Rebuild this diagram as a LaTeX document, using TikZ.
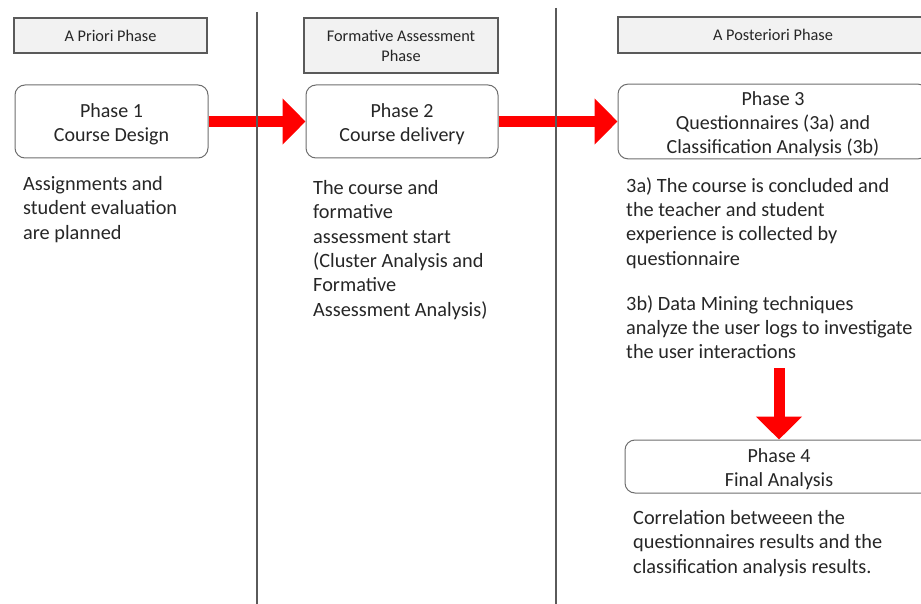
\documentclass[tikz,border=0pt]{standalone}
\usepackage{fontspec}
\setmainfont{Carlito}
\usetikzlibrary{positioning,arrows.meta}
\definecolor{hdrFill}{HTML}{F2F2F2}
\definecolor{lineGray}{HTML}{5A5A5A}
\definecolor{boxGray}{HTML}{6E6E6E}
\definecolor{txtDark}{HTML}{262626}
\definecolor{arrRed}{HTML}{FF0000}
\newcommand{\topgap}{\rule{0pt}{19.5pt}}
\tikzset{
  hdrbox/.style={draw=lineGray, line width=1.3pt, fill=hdrFill, inner sep=2pt,
    font=\fontsize{16.3}{20}\selectfont, align=center, text=txtDark},
  phasebox/.style={draw=boxGray, line width=1pt, rounded corners=10pt, fill=white,
    inner sep=2pt, font=\fontsize{20}{24}\selectfont, align=center, text=txtDark},
  desc/.style={anchor=north west, inner sep=0pt, align=left,
    font=\fontsize{20.3}{24.4}\selectfont, text=txtDark},
  bigarrow/.style={draw=arrRed, line width=11pt, -{Triangle[length=23pt,width=45pt]}},
  sepline/.style={draw=lineGray, line width=1.2pt}
}
\begin{document}
\begin{tikzpicture}[x=1pt,y=-1pt]
  \useasboundingbox (0,0) rectangle (921,604);
  \clip (0,0) rectangle (921,604);

  % phase headers
  \node[hdrbox, minimum width=193pt, minimum height=35pt] (hdr1) at (110.5,35.5) {A Priori Phase};
  \node[hdrbox, minimum width=194pt, minimum height=55pt] (hdr2) at (401,45.5) {Formative Assessment\\Phase};
  \node[hdrbox, minimum width=310pt, minimum height=36pt] (hdr3) at (773,35) {A Posteriori Phase};

  % phase boxes
  \node[phasebox, minimum width=193pt, minimum height=73pt] (p1) at (111.5,121.5) {\topgap Phase 1\\Course Design};
  \node[phasebox, minimum width=192pt, minimum height=73pt] (p2) at (402,121.5) {\topgap Phase 2\\Course delivery};
  \node[phasebox, minimum width=310pt, minimum height=73pt] (p3) at (773,121.5)
    {\topgap Phase 3\\Questionnaires (3a) and\\Classification Analysis (3b)};
  \node[phasebox, minimum width=308pt, minimum height=53pt] (p4) at (779,466.5) {\topgap Phase 4\\Final Analysis};

  % descriptions
  \node[desc] (d1) at (23,176) {Assignments and\\student evaluation\\are planned};
  \node[desc] (d2) at (313,180) {The course and\\formative\\assessment start\\(Cluster Analysis and\\Formative\\Assessment Analysis)};
  \node[desc] (d3a) at (626,177) {3a) The course is concluded and\\the teacher and student\\experience is collected by\\questionnaire};
  \node[desc] (d3b) at (626,295) {3b) Data Mining techniques\\analyze the user logs to investigate\\the user interactions};
  \node[desc] (d4) at (633,510) {Correlation betweeen the\\questionnaires results and the\\classification analysis results.};

  % arrows
  \coordinate (a3top) at (779,368);
  \draw[bigarrow] (p1) -- (p2);
  \draw[bigarrow] (p2) -- (p3);
  \draw[bigarrow] (a3top) -- (a3top |- p4.north);

  % separators
  \draw[sepline] (257,12) -- (257,604);
  \draw[sepline] (556,8) -- (556,604);
\end{tikzpicture}
\end{document}
